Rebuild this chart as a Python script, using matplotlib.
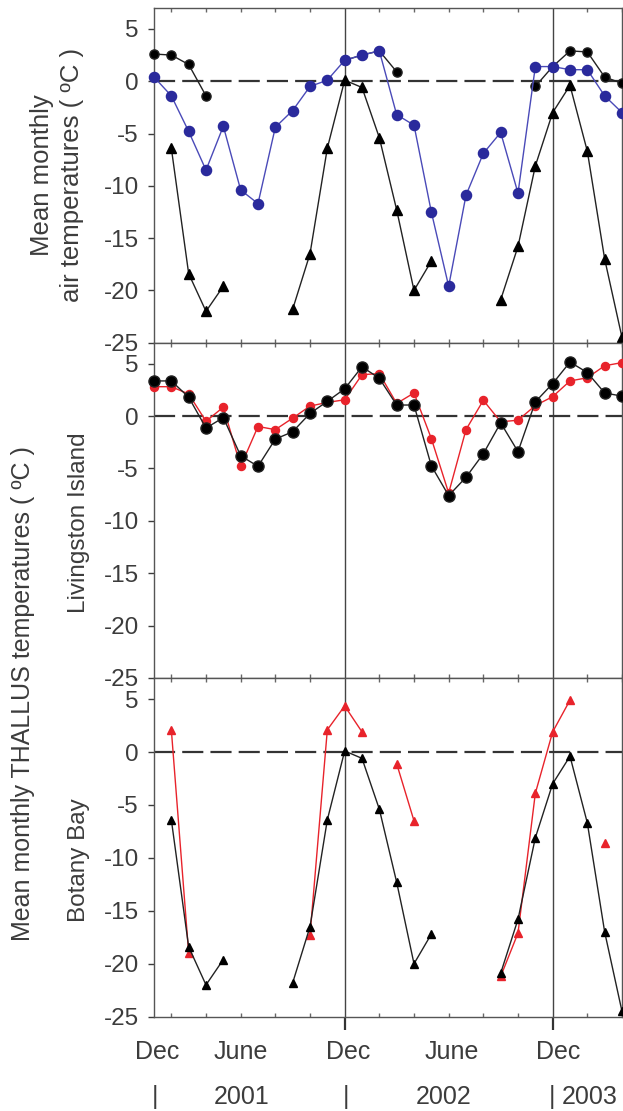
import numpy as np
import matplotlib
matplotlib.use("Agg")
import matplotlib.pyplot as plt
import matplotlib.transforms as mtransforms

plt.rcParams['font.family'] = ['Liberation Sans', 'DejaVu Sans']
plt.rcParams['axes.unicode_minus'] = False

nan = np.nan
months = np.arange(28)  # monthly index, 0 = left edge (Dec 2000)

# top panel: air temperatures
air_black = [2.6, 2.5, 1.6, -1.4, nan, nan, nan, nan, nan, nan, nan, 2.0, 2.5, 2.9,
             0.9, nan, nan, nan, nan, nan, nan, nan, -0.5, 1.4, 2.9, 2.8, 0.4, -0.2]
air_blue = [0.4, -1.4, -4.8, -8.5, -4.3, -10.4, -11.7, -4.4, -2.8, -0.5, 0.1, 2.0, 2.5, 2.9,
            -3.2, -4.2, -12.5, -19.6, -10.9, -6.9, -4.9, -10.7, 1.4, 1.4, 1.1, 1.1, -1.4, -3.0]
air_tri = [nan, -6.4, -18.4, -22.0, -19.6, nan, nan, nan, -21.8, -16.5, -6.4, 0.1, -0.6, -5.4,
           -12.3, -20.0, -17.2, nan, nan, nan, -20.9, -15.8, -8.1, -3.0, -0.4, -6.7, -17.0, -24.5]

# middle panel: Livingston Island thallus
liv_black = [3.35, 3.35, 1.8, -1.15, -0.15, -3.8, -4.8, -2.2, -1.5, 0.25, 1.4, 2.6, 4.7, 3.6,
             1.05, 1.05, -4.75, -7.6, -5.85, -3.6, -0.65, -3.4, 1.35, 3.1, 5.15, 4.15, 2.2, 1.9]
liv_red = [2.8, 2.8, 2.1, -0.5, 0.85, -4.8, -1.0, -1.3, -0.2, 0.95, 1.3, 1.55, 3.95, 4.05,
           1.2, 2.2, -2.15, -7.35, -1.3, 1.5, -0.55, -0.4, 1.0, 1.85, 3.35, 3.65, 4.8, 5.1]

# bottom panel: Botany Bay thallus
bb_red = [nan, 2.1, -19.0, nan, nan, nan, nan, nan, nan, -17.3, 2.1, 4.35, 1.9, nan,
          -1.1, -6.5, nan, nan, nan, nan, -21.2, -17.1, -3.9, 1.9, 4.9, nan, -8.55, nan]
bb_black = air_tri

dec_lines = [11, 23]
month_labels = ["Dec", "June", "Dec", "June", "Dec"]
month_pos = [0.2, 5.0, 11.2, 17.2, 23.3]
year_labels = ["|", "2001", "|", "2002", "|", "2003"]
year_pos = [0.05, 5.05, 11.1, 16.7, 22.95, 25.15]

BLUE = "#2a2a9c"
BLUELINE = "#4a4ab8"
RED = "#e8232b"
GRAY = "#3c3c3c"

fig = plt.figure(figsize=(6.23, 11.11), dpi=100)
H = 1111.0
L = 154 / 623.0
W = 468 / 623.0
bounds = [(8, 342.7), (342.7, 677.9), (677.9, 1016.7)]
axes = []
for top, bot in bounds:
    axes.append(fig.add_axes([L, 1 - bot / H, W, (bot - top) / H]))

for ax in axes:
    ax.set_xlim(0, 27)
    ax.set_ylim(-25, 7)
    ax.set_yticks([5, 0, -5, -10, -15, -20, -25])
    ax.tick_params(axis='y', direction='out', length=4, width=1, colors=GRAY,
                   labelsize=17.5, pad=7)
    ax.set_xticks(dec_lines)
    ax.set_xticklabels([])
    ax.tick_params(axis='x', which='major', length=0)
    ax.set_xticks(np.arange(1, 28, 2), minor=True)
    ax.tick_params(axis='x', which='minor', direction='in', length=3, width=1,
                   colors='#666666', top=True, bottom=True)
    for s in ax.spines.values():
        s.set_color('#555555')
        s.set_linewidth(1)
    for d in dec_lines:
        ax.axvline(d, color='#444444', lw=1, zorder=1)
    ax.axhline(0, color='#333333', lw=1.6, dashes=(9.5, 3.2), zorder=2)

ax1, ax2, ax3 = axes

ax1.plot(months, air_black, '-o', color='#222222', lw=1, ms=6.6, mfc='black',
         mec='#222222', zorder=3, clip_on=False)
ax1.plot(months, air_blue, '-o', color=BLUELINE, lw=1, ms=7.3, mfc=BLUE, mec=BLUE,
         zorder=4, clip_on=False)
ax1.plot(months, air_tri, '-^', color='#222222', lw=1, ms=7.0, mfc='black',
         mec='black', zorder=5, clip_on=False)

ax2.plot(months, liv_red, '-o', color=RED, lw=1, ms=5.8, mfc=RED, mec=RED,
         zorder=3, clip_on=False)
ax2.plot(months, liv_black, '-o', color='#222222', lw=1, ms=8.0, mfc='black',
         mec='#222222', zorder=4, clip_on=False)

ax3.plot(months, bb_red, '-^', color=RED, lw=1, ms=6.3, mfc=RED, mec=RED,
         zorder=3, clip_on=False)
ax3.plot(months, bb_black, '-^', color='#222222', lw=1, ms=6.3, mfc='black',
         mec='black', zorder=4, clip_on=False)

# Dec markers reaching below the bottom panel
ax3.tick_params(axis='x', which='major', direction='out', length=9, width=1.6,
                colors='#333333', top=False)

# month and year rows under the bottom panel
trans = mtransforms.blended_transform_factory(ax3.transData, fig.transFigure)
for lab, xp in zip(month_labels, month_pos):
    fig.text(xp, 1 - 1052 / H, lab, transform=trans, ha='center', va='center',
             fontsize=18, color=GRAY)
for lab, xp in zip(year_labels, year_pos):
    fig.text(xp, 1 - 1097 / H, lab, transform=trans, ha='center', va='center',
             fontsize=18, color=GRAY)

# axis titles
fig.text(42 / 623, 1 - 175 / H, "Mean monthly", rotation=90, ha='center',
         va='center', fontsize=18.5, color=GRAY)
fig.text(72 / 623, 1 - 175 / H, "air temperatures ( ºC )", rotation=90,
         ha='center', va='center', fontsize=18.5, color=GRAY)
fig.text(23 / 623, 1 - 694 / H, "Mean monthly THALLUS temperatures ( ºC )",
         rotation=90, ha='center', va='center', fontsize=18, color=GRAY)
fig.text(79 / 623, 1 - 523 / H, "Livingston Island", rotation=90, ha='center',
         va='center', fontsize=17.5, color=GRAY)
fig.text(79 / 623, 1 - 860 / H, "Botany Bay", rotation=90, ha='center',
         va='center', fontsize=17.5, color=GRAY)

fig.savefig("out.png", dpi=100)
